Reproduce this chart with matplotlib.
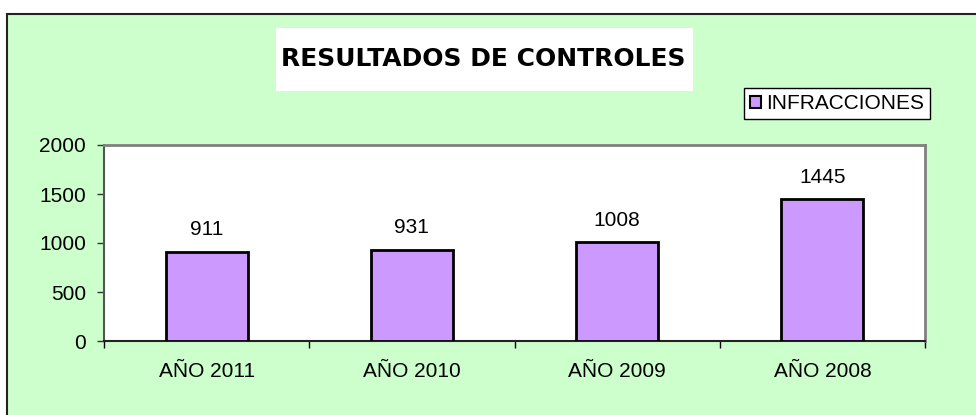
import matplotlib.pyplot as plt
import matplotlib.patches as patches

# Data
years = ['AÑO 2011', 'AÑO 2010', 'AÑO 2009', 'AÑO 2008']
infracciones = [911, 931, 1008, 1445]
y_ticks = [0, 500, 1000, 1500, 2000]

plt.rcParams['font.family'] = ['Liberation Sans', 'DejaVu Sans']
fs = 15

fig = plt.figure(figsize=(9.76, 4.15), dpi=100)
fig.patch.set_facecolor('white')

# Green chart area with dark frame on left/top
W, H = 976.0, 415.0
fig.patches.append(patches.Rectangle((7 / W, -0.05), 1.1, (415 - 14) / H + 0.05,
                                     transform=fig.transFigure, facecolor='#CCFFCC',
                                     edgecolor='#222222', linewidth=1.5, zorder=-5))

# Title box
fig.patches.append(patches.Rectangle((276 / W, (H - 91) / H), (693 - 276) / W, 63 / H,
                                     transform=fig.transFigure, facecolor='white',
                                     edgecolor='none', zorder=-4))
fig.text(483 / W, (H - 59) / H, 'RESULTADOS DE CONTROLES', ha='center', va='center',
         fontsize=18, fontweight='bold', family='DejaVu Sans')

ax = fig.add_axes([104 / W, (H - 341) / H, (925 - 104) / W, (341 - 145) / H])
ax.set_facecolor('white')

x = range(len(years))
bars = ax.bar(x, infracciones, width=0.4, color='#CC99FF', edgecolor='black',
              linewidth=2, label='INFRACCIONES', zorder=3)

for xi, v in zip(x, infracciones):
    ax.annotate(str(v), (xi, v), xytext=(0, 9), textcoords='offset points',
                ha='center', va='bottom', fontsize=fs)

ax.set_xlim(-0.5, len(years) - 0.5)
ax.set_ylim(0, 2000)
ax.set_yticks(y_ticks)
ax.set_yticklabels([str(t) for t in y_ticks], fontsize=fs)
ax.set_xticks(list(x))
ax.set_xticklabels(years, fontsize=fs)
ax.set_xticks([i + 0.5 for i in range(-1, len(years))], minor=True)
ax.tick_params(axis='x', which='major', length=0, pad=15)
ax.tick_params(axis='x', which='minor', length=5, width=1, color='black', direction='out')
ax.tick_params(axis='y', length=5, width=1, color='#333333', direction='out', pad=8)

for side in ['top', 'right']:
    ax.spines[side].set_color('#808080')
    ax.spines[side].set_linewidth(2)
ax.spines['left'].set_color('#555555')
ax.spines['left'].set_linewidth(1.5)
ax.spines['bottom'].set_color('#222222')
ax.spines['bottom'].set_linewidth(1.5)

leg = ax.legend(loc='upper right', bbox_to_anchor=(930 / W, (H - 88) / H),
                bbox_transform=fig.transFigure, fontsize=fs, frameon=True,
                fancybox=False, edgecolor='black', framealpha=1, borderpad=0.3,
                handlelength=0.5, handleheight=0.5, handletextpad=0.25, borderaxespad=0)
leg.get_frame().set_linewidth(1)
for h in leg.legend_handles:
    h.set_linewidth(1.5)

fig.savefig('out.png', dpi=100, facecolor=fig.get_facecolor())
